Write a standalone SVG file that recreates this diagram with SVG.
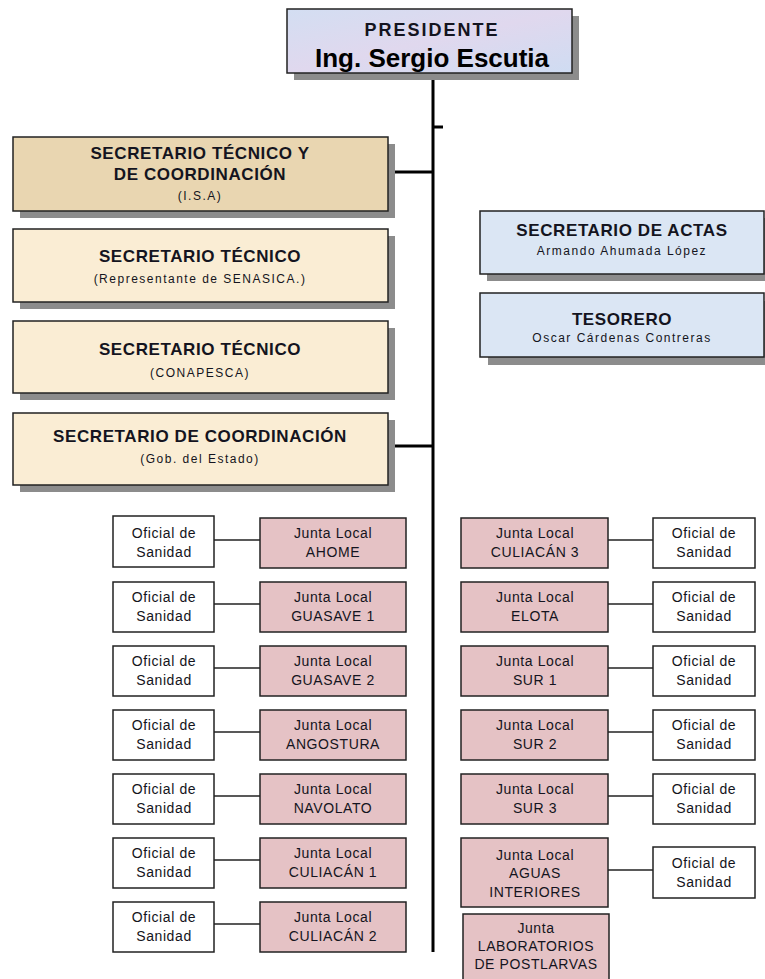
<svg xmlns="http://www.w3.org/2000/svg" width="765" height="979" viewBox="0 0 765 979">
<defs>
<linearGradient id="gPres" x1="0" y1="0" x2="1" y2="1">
<stop offset="0" stop-color="#d3def2"/><stop offset="0.5" stop-color="#e0d8ee"/><stop offset="1" stop-color="#cfdcf2"/>
</linearGradient>
<style>
.t{font-family:"Liberation Sans",Arial,sans-serif;fill:#141420;text-anchor:middle}
.b{font-weight:bold;font-size:17px;letter-spacing:0.6px}
.s{font-size:12px;letter-spacing:1.5px}
.m{font-size:14px;letter-spacing:0.6px}
.box{stroke:#222;stroke-width:1.5}
.sh{fill:#8c8c8c}
.tan{fill:#e9d6b1}
.cream{fill:#faedd4}
.blue{fill:#dbe6f4}
.pink{fill:#e5c2c5}
.white{fill:#fff}
.ln{stroke:#000;stroke-width:3;fill:none}
.ln2{stroke:#222;stroke-width:1.5;fill:none}
</style>
</defs>
<rect width="765" height="979" fill="#fff"/>
<g id="connectors">
<line class="ln" x1="433" y1="73" x2="433" y2="952"/>
<line class="ln" x1="433" y1="127" x2="443" y2="127"/>
<line class="ln" x1="388" y1="172" x2="433" y2="172"/>
<line class="ln" x1="388" y1="446" x2="433" y2="446"/>
<line class="ln2" x1="214" y1="540" x2="260" y2="540"/>
<line class="ln2" x1="214" y1="604" x2="260" y2="604"/>
<line class="ln2" x1="214" y1="668" x2="260" y2="668"/>
<line class="ln2" x1="214" y1="732" x2="260" y2="732"/>
<line class="ln2" x1="214" y1="796" x2="260" y2="796"/>
<line class="ln2" x1="214" y1="860" x2="260" y2="860"/>
<line class="ln2" x1="214" y1="924" x2="260" y2="924"/>
<line class="ln2" x1="608" y1="540" x2="653" y2="540"/>
<line class="ln2" x1="608" y1="604" x2="653" y2="604"/>
<line class="ln2" x1="608" y1="668" x2="653" y2="668"/>
<line class="ln2" x1="608" y1="732" x2="653" y2="732"/>
<line class="ln2" x1="608" y1="796" x2="653" y2="796"/>
<line class="ln2" x1="608" y1="870" x2="653" y2="870"/>
</g>
<g id="presidente">
<rect class="sh" x="294" y="16" width="285" height="64"/>
<rect class="box" x="287" y="9" width="285" height="64" fill="url(#gPres)"/>
<text class="t" x="432" y="36" style="font-weight:bold;font-size:18px;letter-spacing:2px">PRESIDENTE</text>
<text class="t" x="432" y="67" style="font-weight:bold;font-size:26px;fill:#000">Ing. Sergio Escutia</text>
</g>
<g id="sec-tec-coord">
<rect class="sh" x="20" y="144" width="375" height="74"/>
<rect class="box tan" x="13" y="137" width="375" height="74"/>
<text class="t b" x="200" y="159">SECRETARIO TÉCNICO Y</text>
<text class="t b" x="200" y="180">DE COORDINACIÓN</text>
<text class="t s" x="200" y="200">(I.S.A)</text>
</g>
<g id="sec-tec-senasica">
<rect class="sh" x="20" y="236" width="375" height="73"/>
<rect class="box cream" x="13" y="229" width="375" height="73"/>
<text class="t b" x="200" y="262">SECRETARIO TÉCNICO</text>
<text class="t s" x="200" y="283">(Representante de SENASICA.)</text>
</g>
<g id="sec-tec-conapesca">
<rect class="sh" x="20" y="328" width="375" height="72"/>
<rect class="box cream" x="13" y="321" width="375" height="72"/>
<text class="t b" x="200" y="355">SECRETARIO TÉCNICO</text>
<text class="t s" x="200" y="377">(CONAPESCA)</text>
</g>
<g id="sec-coord">
<rect class="sh" x="20" y="420" width="375" height="72"/>
<rect class="box cream" x="13" y="413" width="375" height="72"/>
<text class="t b" x="200" y="442">SECRETARIO DE COORDINACIÓN</text>
<text class="t s" x="200" y="463">(Gob. del Estado)</text>
</g>
<g id="sec-actas">
<rect class="sh" x="487" y="218" width="278" height="63"/>
<rect class="box blue" x="480" y="211" width="284" height="63"/>
<text class="t b" x="622" y="236">SECRETARIO DE ACTAS</text>
<text class="t s" x="622" y="255">Armando Ahumada López</text>
</g>
<g id="tesorero">
<rect class="sh" x="488" y="301" width="277" height="64"/>
<rect class="box blue" x="480" y="293" width="284" height="64"/>
<text class="t b" x="622" y="325">TESORERO</text>
<text class="t s" x="622" y="342">Oscar Cárdenas Contreras</text>
</g>
<g id="of-l1"><rect class="box white" x="113" y="516" width="101" height="51"/><text class="t m" x="164" y="538">Oficial de</text><text class="t m" x="164" y="557">Sanidad</text></g>
<g id="jl-ahome"><rect class="box pink" x="260" y="518" width="146" height="50"/><text class="t m" x="333" y="538">Junta Local</text><text class="t m" x="333" y="557">AHOME</text></g>
<g id="of-l2"><rect class="box white" x="113" y="582" width="101" height="50"/><text class="t m" x="164" y="602">Oficial de</text><text class="t m" x="164" y="621">Sanidad</text></g>
<g id="jl-guasave1"><rect class="box pink" x="260" y="582" width="146" height="50"/><text class="t m" x="333" y="602">Junta Local</text><text class="t m" x="333" y="621">GUASAVE 1</text></g>
<g id="of-l3"><rect class="box white" x="113" y="646" width="101" height="50"/><text class="t m" x="164" y="666">Oficial de</text><text class="t m" x="164" y="685">Sanidad</text></g>
<g id="jl-guasave2"><rect class="box pink" x="260" y="646" width="146" height="50"/><text class="t m" x="333" y="666">Junta Local</text><text class="t m" x="333" y="685">GUASAVE 2</text></g>
<g id="of-l4"><rect class="box white" x="113" y="710" width="101" height="50"/><text class="t m" x="164" y="730">Oficial de</text><text class="t m" x="164" y="749">Sanidad</text></g>
<g id="jl-angostura"><rect class="box pink" x="260" y="710" width="146" height="50"/><text class="t m" x="333" y="730">Junta Local</text><text class="t m" x="333" y="749">ANGOSTURA</text></g>
<g id="of-l5"><rect class="box white" x="113" y="774" width="101" height="50"/><text class="t m" x="164" y="794">Oficial de</text><text class="t m" x="164" y="813">Sanidad</text></g>
<g id="jl-navolato"><rect class="box pink" x="260" y="774" width="146" height="50"/><text class="t m" x="333" y="794">Junta Local</text><text class="t m" x="333" y="813">NAVOLATO</text></g>
<g id="of-l6"><rect class="box white" x="113" y="838" width="101" height="50"/><text class="t m" x="164" y="858">Oficial de</text><text class="t m" x="164" y="877">Sanidad</text></g>
<g id="jl-culiacan1"><rect class="box pink" x="260" y="838" width="146" height="50"/><text class="t m" x="333" y="858">Junta Local</text><text class="t m" x="333" y="877">CULIACÁN 1</text></g>
<g id="of-l7"><rect class="box white" x="113" y="902" width="101" height="50"/><text class="t m" x="164" y="922">Oficial de</text><text class="t m" x="164" y="941">Sanidad</text></g>
<g id="jl-culiacan2"><rect class="box pink" x="260" y="902" width="146" height="50"/><text class="t m" x="333" y="922">Junta Local</text><text class="t m" x="333" y="941">CULIACÁN 2</text></g>
<g id="jl-culiacan3"><rect class="box pink" x="461" y="518" width="147" height="50"/><text class="t m" x="535" y="538">Junta Local</text><text class="t m" x="535" y="557">CULIACÁN 3</text></g>
<g id="of-r1"><rect class="box white" x="653" y="518" width="102" height="50"/><text class="t m" x="704" y="538">Oficial de</text><text class="t m" x="704" y="557">Sanidad</text></g>
<g id="jl-elota"><rect class="box pink" x="461" y="582" width="147" height="50"/><text class="t m" x="535" y="602">Junta Local</text><text class="t m" x="535" y="621">ELOTA</text></g>
<g id="of-r2"><rect class="box white" x="653" y="582" width="102" height="50"/><text class="t m" x="704" y="602">Oficial de</text><text class="t m" x="704" y="621">Sanidad</text></g>
<g id="jl-sur1"><rect class="box pink" x="461" y="646" width="147" height="50"/><text class="t m" x="535" y="666">Junta Local</text><text class="t m" x="535" y="685">SUR 1</text></g>
<g id="of-r3"><rect class="box white" x="653" y="646" width="102" height="50"/><text class="t m" x="704" y="666">Oficial de</text><text class="t m" x="704" y="685">Sanidad</text></g>
<g id="jl-sur2"><rect class="box pink" x="461" y="710" width="147" height="50"/><text class="t m" x="535" y="730">Junta Local</text><text class="t m" x="535" y="749">SUR 2</text></g>
<g id="of-r4"><rect class="box white" x="653" y="710" width="102" height="50"/><text class="t m" x="704" y="730">Oficial de</text><text class="t m" x="704" y="749">Sanidad</text></g>
<g id="jl-sur3"><rect class="box pink" x="461" y="774" width="147" height="50"/><text class="t m" x="535" y="794">Junta Local</text><text class="t m" x="535" y="813">SUR 3</text></g>
<g id="of-r5"><rect class="box white" x="653" y="774" width="102" height="50"/><text class="t m" x="704" y="794">Oficial de</text><text class="t m" x="704" y="813">Sanidad</text></g>
<g id="jl-aguas"><rect class="box pink" x="461" y="838" width="147" height="69"/><text class="t m" x="535" y="860">Junta Local</text><text class="t m" x="535" y="878">AGUAS</text><text class="t m" x="535" y="897">INTERIORES</text></g>
<g id="of-r6"><rect class="box white" x="653" y="847" width="102" height="51"/><text class="t m" x="704" y="868">Oficial de</text><text class="t m" x="704" y="887">Sanidad</text></g>
<g id="jl-laboratorios"><rect class="box pink" x="463" y="914" width="146" height="72"/><text class="t m" x="536" y="933">Junta</text><text class="t m" x="536" y="951">LABORATORIOS</text><text class="t m" x="536" y="969">DE POSTLARVAS</text></g>
</svg>
